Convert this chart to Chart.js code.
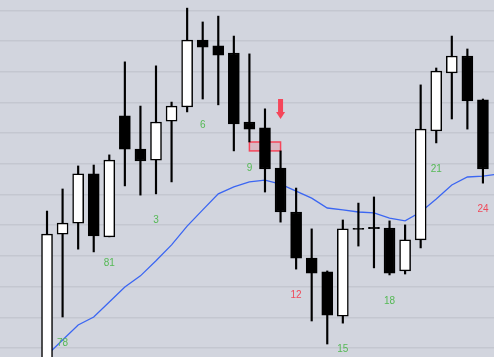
<!DOCTYPE html>
<html>
<head>
<meta charset="utf-8">
<script src="https://cdn.jsdelivr.net/npm/chart.js@4.4.1/dist/chart.umd.min.js"></script>
<style>
  html, body { margin: 0; padding: 0; background: #d2d5de; overflow: hidden; }
  #chart { display: block; }
</style>
</head>
<body>
<canvas id="chart" width="494" height="357"></canvas>
<script>
// =======================
// DATA
// =======================

const barIndex = [3, 4, 5, 6, 7, 8, 9, 10, 11, 12, 13, 14, 15, 16, 17, 18, 19, 20, 21, 22, 23, 24, 25, 26, 27, 28, 29, 30, 31];

const opens  = [2.0, 47.1, 50.7, 66.7, 46.2, 85.6, 74.8, 71.2, 83.9, 88.5, 110.3, 108.4, 106.1, 83.6, 81.7, 68.6, 54.3, 39.3, 34.8, 20.4, 49.0, 49.3, 49.1, 35.1, 45.2, 80.7, 99.6, 105.1, 90.8];
const highs  = [54.6, 61.8, 69.3, 69.6, 72.9, 103.2, 88.8, 101.9, 90.1, 120.7, 116.2, 118.1, 111.6, 105.8, 87.9, 74.2, 62.1, 48.8, 35.1, 51.7, 57.2, 59.2, 51.4, 50.1, 95.7, 101.2, 111.6, 107.4, 91.1];
const lows   = [0.0, 20.1, 42.2, 41.3, 46.2, 62.8, 59.8, 60.2, 64.1, 86.9, 91.1, 89.2, 74.2, 77.1, 60.8, 51.0, 35.7, 18.8, 11.3, 18.1, 43.2, 36.1, 33.8, 34.1, 42.6, 76.8, 84.6, 81.3, 63.7];
const closes = [47.1, 50.7, 66.7, 46.5, 71.2, 74.8, 70.9, 83.6, 88.8, 110.3, 108.0, 105.4, 83.0, 81.3, 68.3, 54.3, 39.3, 34.4, 20.7, 48.8, 48.6, 48.9, 34.4, 45.2, 81.3, 100.2, 105.1, 90.5, 68.3];

// moving average, bars 3..32
const maIndex  = [3, 4, 5, 6, 7, 8, 9, 10, 11, 12, 13, 14, 15, 16, 17, 18, 19, 20, 21, 22, 23, 24, 25, 26, 27, 28, 29, 30, 31, 32];
const maValues = [7.7, 12.6, 17.5, 20.1, 25.0, 29.9, 33.5, 38.4, 43.6, 49.7, 55.0, 60.2, 62.5, 64.1, 64.7, 63.4, 61.1, 58.8, 55.6, 55.0, 54.3, 54.0, 52.3, 51.4, 54.3, 58.5, 63.1, 65.7, 66.0, 66.7];

// bar counters under the candles
const markerBars   = [4, 7, 10, 13, 16, 19, 22, 25, 28, 31];
const markerTexts  = ["78", "81", "3", "6", "9", "12", "15", "18", "21", "24"];
const markerIsDown = [false, false, false, false, false, true, false, false, false, true];

// grid levels
const priceTicks = [10, 20, 30, 40, 50, 60, 70, 80, 90, 100, 110, 120];

// signal arrow + zone
const arrowBar = 18;
const arrowTop = 91.1;
const arrowTip = 84.6;
const zoneFrom = 16;
const zoneTo = 18;
const zoneHigh = 77.1;
const zoneLow = 74.2;

// =======================
// COLORS
// =======================
const BG = "#d2d5de";
const GRID = "#c4c7d0";
const GREEN = "#55b955";
const RED = "#f04a5a";
const SIGNAL = "#f5465a";

const wickData = barIndex.map((x, i) => ({ x: x, y: [lows[i], highs[i]] }));
const bodyData = barIndex.map((x, i) => ({ x: x, y: [opens[i], closes[i]] }));
const bodyColors = barIndex.map((x, i) => closes[i] >= opens[i] ? "#ffffff" : "#000000");
const maData = maIndex.map((x, i) => ({ x: x, y: maValues[i] }));

// zone drawn under the candles, arrow + counters above
const overlays = {
  id: "overlays",
  beforeDatasetsDraw(chart) {
    const { ctx, scales: { x, y } } = chart;
    const x1 = x.getPixelForValue(zoneFrom);
    const x2 = x.getPixelForValue(zoneTo);
    const y1 = y.getPixelForValue(zoneHigh);
    const y2 = y.getPixelForValue(zoneLow);
    ctx.save();
    ctx.fillStyle = "rgba(240, 80, 100, 0.22)";
    ctx.fillRect(x1, y1, x2 - x1, y2 - y1);
    ctx.strokeStyle = SIGNAL;
    ctx.lineWidth = 1.5;
    ctx.strokeRect(x1, y1, x2 - x1, y2 - y1);
    ctx.restore();
  },
  afterDatasetsDraw(chart) {
    const { ctx, scales: { x, y } } = chart;
    ctx.save();

    // arrow
    const ax = x.getPixelForValue(arrowBar);
    const top = y.getPixelForValue(arrowTop);
    const tip = y.getPixelForValue(arrowTip);
    ctx.fillStyle = SIGNAL;
    ctx.fillRect(ax - 2.5, top, 5, tip - top - 5);
    ctx.beginPath();
    ctx.moveTo(ax - 4.5, tip - 7);
    ctx.lineTo(ax + 4.5, tip - 7);
    ctx.lineTo(ax, tip);
    ctx.closePath();
    ctx.fill();

    // counters
    ctx.font = "10px 'Liberation Sans', Arial, sans-serif";
    ctx.textAlign = "center";
    ctx.textBaseline = "middle";
    markerBars.forEach((bar, i) => {
      const k = barIndex.indexOf(bar);
      ctx.fillStyle = markerIsDown[i] ? RED : GREEN;
      ctx.fillText(markerTexts[i], x.getPixelForValue(bar), y.getPixelForValue(lows[k]) + 26);
    });
    ctx.restore();
  }
};

const canvasBg = {
  id: "canvasBg",
  beforeDraw(chart) {
    const { ctx, width, height } = chart;
    ctx.save();
    ctx.fillStyle = BG;
    ctx.fillRect(0, 0, width, height);
    ctx.restore();
  }
};

new Chart(document.getElementById("chart"), {
  type: "bar",
  data: {
    datasets: [
      {
        type: "line",
        data: maData,
        borderColor: "#3b66f2",
        borderWidth: 1.3,
        pointRadius: 0,
        tension: 0,
        fill: false,
        order: 3
      },
      {
        data: wickData,
        backgroundColor: "#000000",
        barThickness: 1.5,
        grouped: false,
        order: 2
      },
      {
        data: bodyData,
        backgroundColor: bodyColors,
        borderColor: "#000000",
        borderWidth: 1.5,
        borderSkipped: false,
        barThickness: 11,
        grouped: false,
        order: 1
      }
    ]
  },
  options: {
    responsive: false,
    animation: false,
    layout: { padding: 0 },
    plugins: {
      legend: { display: false },
      tooltip: { enabled: false }
    },
    scales: {
      x: {
        type: "linear",
        min: -0.02,
        max: 31.71,
        offset: false,
        display: false
      },
      y: {
        type: "linear",
        min: 7.07,
        max: 123.35,
        afterBuildTicks: (scale) => {
          scale.ticks = priceTicks.map(v => ({ value: v }));
        },
        ticks: { display: false },
        border: { display: false },
        grid: { color: GRID, lineWidth: 1.5, drawTicks: false }
      }
    }
  },
  plugins: [canvasBg, overlays]
});
</script>
</body>
</html>
